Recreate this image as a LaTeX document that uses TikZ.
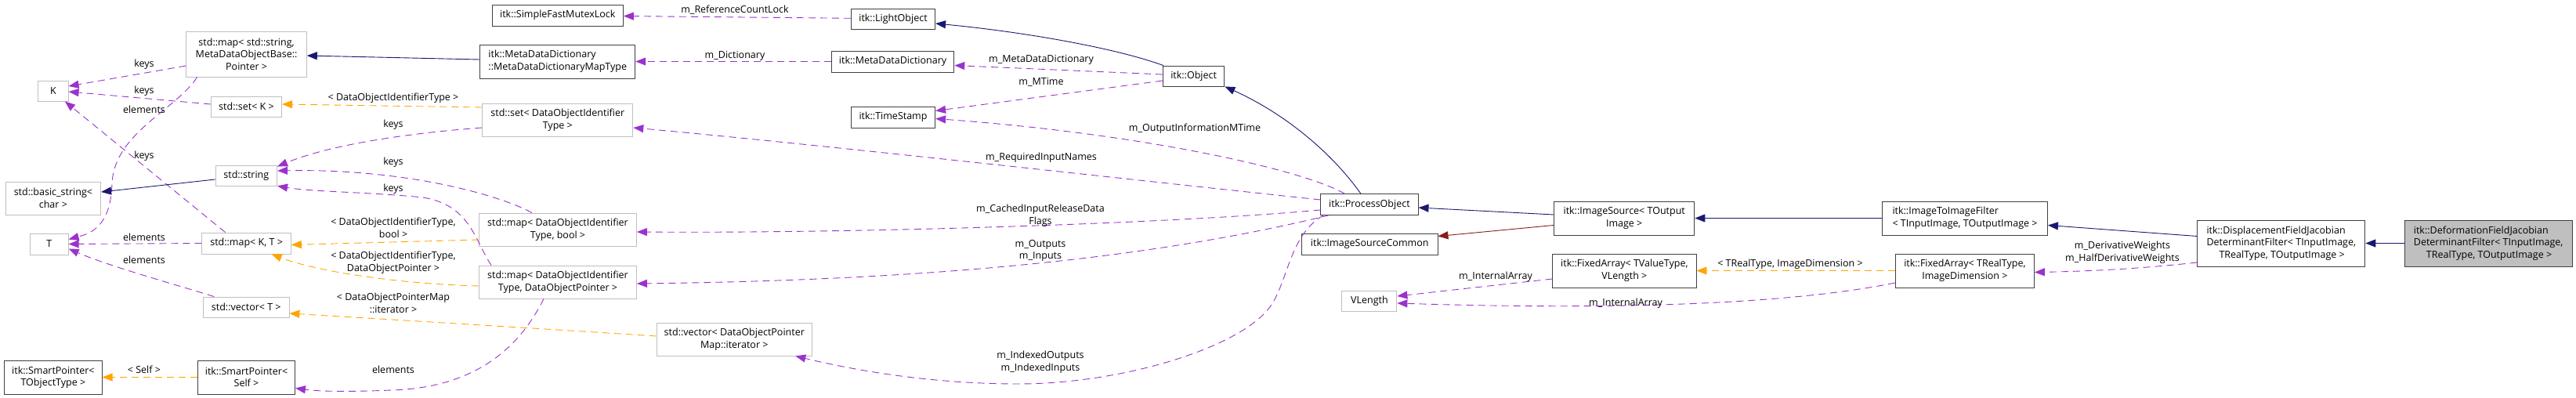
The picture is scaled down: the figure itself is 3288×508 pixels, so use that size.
\documentclass[tikz,border=0pt]{standalone}
\usepackage{fontspec}
\setmainfont{Open Sans}
\usetikzlibrary{arrows.meta}
\definecolor{inhblue}{HTML}{191970}
\definecolor{usepurple}{HTML}{9A32CD}
\definecolor{tmplorange}{HTML}{FFA500}
\definecolor{privred}{HTML}{8B1A1A}
\definecolor{boxgray}{HTML}{BFBFBF}
\definecolor{edgedark}{HTML}{404040}

\begin{document}
\begin{tikzpicture}[x=1pt, y=-1pt,
  dox/.style={font=\fontsize{12.5}{15.5}\selectfont},
  box/.style={dox, draw=edgedark, line width=0.9pt, fill=white, inner sep=0pt, align=center},
  extbox/.style={box, draw=boxgray},
  selfbox/.style={box, fill=boxgray},
  wh/.style 2 args={minimum width=#1pt, minimum height=#2pt},
  elbl/.style={dox, inner sep=0pt, align=center},
  tip/.style={-{Triangle[length=13pt,width=10pt]}},
  inh/.style={tip, draw=inhblue, line width=0.9pt},
  priv/.style={tip, draw=privred, line width=0.9pt},
  uses/.style={tip, draw=usepurple, line width=0.9pt, dash pattern=on 9pt off 6pt},
  tmpl/.style={tip, draw=tmplorange, line width=0.9pt, dash pattern=on 9pt off 6pt}]
  \useasboundingbox (0,0) rectangle (3288,508);

  % === linke spalte: std-typen ===
  \node[extbox, wh={38.5}{26}] (K) at (67.9,116) {K};
  \node[extbox, wh={121.5}{42}] (basicstr) at (67.9,253) {std::basic\_string<\\char >};
  \node[extbox, wh={48.5}{27}] (T) at (62.9,311.5) {T};
  \node[box, wh={124.3}{43}] (spTObj) at (67.9,481.5) {itk::SmartPointer<\\TObjectType >};
  \node[extbox, wh={153.5}{58}] (mapstr) at (314.6,69) {std::map< std::string,\\MetaDataObjectBase::\\Pointer >};
  \node[extbox, wh={90.3}{26}] (setK) at (314.5,136) {std::set< K >};
  \node[extbox, wh={78.6}{26}] (string) at (314.3,224) {std::string};
  \node[extbox, wh={113.5}{27}] (mapKT) at (314.6,310.5) {std::map< K, T >};
  \node[extbox, wh={109.3}{26}] (vecT) at (314.3,392) {std::vector< T >};
  \node[box, wh={124}{43}] (spSelf) at (314.5,481.5) {itk::SmartPointer<\\Self >};

  % === mittlere spalten ===
  \node[box, wh={167.2}{27}] (mutex) at (711.8,19.5) {itk::SimpleFastMutexLock};
  \node[box, wh={197.9}{43}, align=left] (mapType) at (711.8,78.5) {itk::MetaDataDictionary\\::MetaDataDictionaryMapType};
  \node[extbox, wh={192.1}{42}] (setDOIT) at (711.8,153) {std::set< DataObjectIdentifier\\Type >};
  \node[extbox, wh={201}{42}] (mapDOITbool) at (712,293) {std::map< DataObjectIdentifier\\Type, bool >};
  \node[extbox, wh={201}{42}] (mapDOITptr) at (712,360) {std::map< DataObjectIdentifier\\Type, DataObjectPointer >};
  \node[extbox, wh={198.2}{42}] (vecIter) at (937.3,433) {std::vector< DataObjectPointer\\Map::iterator >};
  \node[box, wh={107.2}{26}] (light) at (1140,24) {itk::LightObject};
  \node[box, wh={156.5}{27}] (mdd) at (1139.6,78.5) {itk::MetaDataDictionary};
  \node[box, wh={107.2}{27}] (timestamp) at (1140,149.5) {itk::TimeStamp};
  \node[box, wh={78.6}{26}] (object) at (1523.6,97) {itk::Object};

  % === rechte seite: filterkette ===
  \node[box, wh={124.3}{26.6}] (procobj) at (1747.9,261) {itk::ProcessObject};
  \node[box, wh={173.6}{27}] (isc) at (1748.2,311.5) {itk::ImageSourceCommon};
  \node[extbox, wh={70}{26}] (vlength) at (1747.9,384) {VLength};
  \node[box, wh={179.3}{43}] (imgsrc) at (2073.2,278.5) {itk::ImageSource< TOutput\\Image >};
  \node[box, wh={183.2}{43}] (fatv) at (2073.4,345.5) {itk::FixedArray< TValueType,\\VLength >};
  \node[box, wh={211}{43}, align=left] (i2i) at (2508,278.5) {itk::ImageToImageFilter\\< TInputImage, TOutputImage >};
  \node[box, wh={177.1}{43}] (farr) at (2507.9,345.5) {itk::FixedArray< TRealType,\\ImageDimension >};
  \node[box, wh={214.1}{59}, align=left] (dfj) at (2911.8,310.5) {itk::DisplacementFieldJacobian\\DeterminantFilter< TInputImage,\\\hspace*{16pt}TRealType, TOutputImage >};
  \node[selfbox, wh={214.5}{59}, align=left] (defj) at (3176.2,310.5) {itk::DeformationFieldJacobian\\DeterminantFilter< TInputImage,\\\hspace*{16pt}TRealType, TOutputImage >};

  % === kanten links ===
  \draw[uses] ([yshift=-15pt]mapstr.west) -- ([yshift=6pt]K.east);
  \draw[uses] ([yshift=3pt]setK.west) -- ([yshift=-1pt]K.east);
  \draw[uses] ([xshift=-27pt]mapKT.north) -- ([xshift=15pt]K.south);
  \draw[uses] ([xshift=-63pt]mapstr.south) .. controls (225,140) and (145,170) .. (143,235)
    .. controls (141,290) and (115,298) .. ([yshift=6pt]T.east);
  \draw[uses] (mapKT.west) -- (T.east);
  \draw[uses] ([xshift=-41pt]vecT.north) .. controls (220,362) and (140,340) .. ([yshift=-6pt]T.east);
  \draw[inh] ([yshift=-5pt]string.west) -- ([yshift=8pt]basicstr.east);
  \draw[tmpl] (spSelf.west) -- (spTObj.east);
  \node[elbl] (lKeysA) at (184,82) {keys};
  \node[elbl] (lKeysB) at (184,116) {keys};
  \node[elbl] (lElemA) at (184,140) {elements};
  \node[elbl] (lKeysC) at (184,199) {keys};
  \node[elbl] (lElemB) at (184,303) {elements};
  \node[elbl] (lElemC) at (184,332) {elements};
  \node[elbl] (lSelf) at (184,472) {< Self >};

  % === kanten zu std-typen ===
  \draw[uses] ([yshift=-10pt]setDOIT.west) .. controls (520,170) and (420,185) .. ([yshift=-2pt]string.north east);
  \draw[uses] ([xshift=-33pt]mapDOITbool.north) .. controls (640,250) and (520,215) .. ([yshift=6pt]string.east);
  \draw[uses] ([xshift=16pt]mapDOITptr.north west) .. controls (605,305) and (600,262) .. (540,252)
    .. controls (470,245) and (400,245) .. (string.south east);
  \draw[inh] ([yshift=2.5pt]mapType.west) -- ([yshift=-2pt]mapstr.east);
  \draw[tmpl] ([yshift=16pt]setDOIT.west) -- ([yshift=3pt]setK.east);
  \draw[tmpl] ([yshift=-13pt]mapDOITbool.west) -- ([yshift=-2pt]mapKT.east);
  \draw[tmpl] ([yshift=-5pt]mapDOITptr.west) .. controls (500,362) and (400,345) .. ([xshift=32pt]mapKT.south);
  \draw[tmpl] ([yshift=4pt]vecIter.west) .. controls (700,420) and (500,408) .. ([yshift=-8pt]vecT.east);
  \draw[uses] ([xshift=-18pt]mapDOITptr.south) .. controls (660,450) and (600,495) .. (500,498)
    .. controls (450,500) and (410,500) .. ([yshift=-14pt]spSelf.east);
  \node[elbl] (lKeysD) at (502,159) {keys};
  \node[elbl] (lKeysE) at (502,207) {keys};
  \node[elbl] (lKeysF) at (502,241) {keys};
  \node[elbl] (lTmplA) at (502,125) {< DataObjectIdentifierType >};
  \node[elbl] (lTmplB) at (502,291) {< DataObjectIdentifierType,\\bool >};
  \node[elbl] (lTmplC) at (502,335) {< DataObjectIdentifierType,\\DataObjectPointer >};
  \node[elbl] (lTmplD) at (502,387) {< DataObjectPointerMap\\::iterator >};
  \node[elbl] (lElemD) at (502,472) {elements};

  % === itk::Object und ProcessObject ===
  \draw[uses] ([yshift=0.7pt]light.west) -- ([yshift=-1pt]mutex.east);
  \draw[uses] (mdd.west) -- (mapType.east);
  \draw[inh] ([xshift=1pt]object.north west) .. controls (1420,60) and (1300,40) .. ([yshift=-6pt]light.east);
  \draw[uses] ([yshift=2pt]object.west) -- ([yshift=-5pt]mdd.east);
  \draw[uses] ([yshift=-6pt]object.west) -- ([yshift=8pt]timestamp.east);
  \draw[inh] ([xshift=-11pt]procobj.north) .. controls (1700,195) and (1640,145) .. (object.south east);
  \draw[uses] ([xshift=31pt]procobj.north west) .. controls (1660,215) and (1450,170) .. ([yshift=-2pt]timestamp.east);
  \draw[uses] ([yshift=6pt]procobj.west) .. controls (1450,230) and (1050,185) .. ([yshift=-10pt]setDOIT.east);
  \draw[uses] ([yshift=-7pt]procobj.west) .. controls (1500,285) and (1100,298) .. ([yshift=-3pt]mapDOITbool.east);
  \draw[uses] ([xshift=11pt]procobj.south west) .. controls (1450,335) and (1150,358) .. ([yshift=-2pt]mapDOITptr.east);
  \draw[uses] ([xshift=4pt]procobj.south west) .. controls (1645,300) and (1644,362) .. (1620,393)
    .. controls (1580,445) and (1430,490) .. (1300,490)
    .. controls (1180,490) and (1080,470) .. ([xshift=78pt]vecIter.south);
  \node[elbl] (lRefLock) at (938,13) {m\_ReferenceCountLock};
  \node[elbl] (lDict) at (938,71) {m\_Dictionary};
  \node[elbl] (lMDD) at (1329,76) {m\_MetaDataDictionary};
  \node[elbl] (lMTime) at (1329,105) {m\_MTime};
  \node[elbl] (lOutMTime) at (1525,164) {m\_OutputInformationMTime};
  \node[elbl] (lReqNames) at (1329,201) {m\_RequiredInputNames};
  \node[elbl] (lCached) at (1328,275.5) {m\_CachedInputReleaseData\\Flags};
  \node[elbl] (lInOut) at (1328,320) {m\_Outputs\\m\_Inputs};
  \node[elbl] (lIndexed) at (1328,462) {m\_IndexedOutputs\\m\_IndexedInputs};

  % === filterkette ===
  \draw[inh] ([yshift=4.5pt]imgsrc.west) -- ([yshift=-4pt]procobj.east);
  \draw[priv] ([yshift=-9pt]imgsrc.west) -- ([yshift=10pt]isc.east);
  \draw[inh] (i2i.west) -- (imgsrc.east);
  \draw[uses] ([yshift=-10.5pt]fatv.west) -- ([yshift=6pt]vlength.east);
  \draw[tmpl] (farr.west) -- (fatv.east);
  \draw[uses] ([yshift=-15.5pt]farr.west) .. controls (2300,385) and (2100,397) .. ([yshift=-3pt]vlength.east);
  \draw[inh] ([yshift=9pt]dfj.west) -- ([yshift=-9pt]i2i.east);
  \draw[uses] ([yshift=-24.5pt]dfj.west) .. controls (2740,342) and (2680,346) .. ([yshift=-2pt]farr.east);
  \draw[inh] (defj.west) -- (dfj.east);
  \node[elbl] (lArrA) at (1909,353) {m\_InternalArray};
  \node[elbl] (lArrB) at (2075,387) {m\_InternalArray};
  \node[elbl] (lTmplE) at (2285,337) {< TRealType, ImageDimension >};
  \node[elbl] (lWeights) at (2709,322.5) {m\_DerivativeWeights\\m\_HalfDerivativeWeights};
\end{tikzpicture}
\end{document}
